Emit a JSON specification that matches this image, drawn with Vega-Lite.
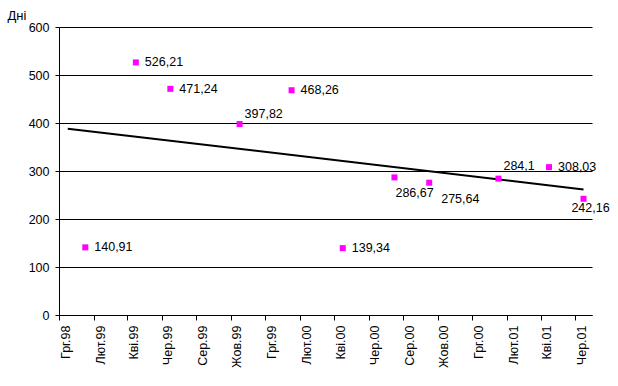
{
  "$schema": "https://vega.github.io/schema/vega-lite/v6.json",
  "width": 533,
  "height": 288,
  "autosize": {"type": "none"},
  "padding": {"left": 59, "top": 27, "right": 26, "bottom": 71},
  "background": "white",
  "config": {
    "view": {"stroke": null},
    "font": "Liberation Sans",
    "locale": {"number": {"decimal": ",", "thousands": " ", "grouping": [3], "currency": ["", ""]}},
    "axis": {"labelFont": "Liberation Sans", "titleFont": "Liberation Sans", "labelColor": "black", "titleColor": "black", "domainColor": "black", "tickColor": "black", "labelFontSize": 12.5}
  },
  "datasets": {
    "points": [
      {"month": "1999-01", "value": 140.91},
      {"month": "1999-04", "value": 526.21},
      {"month": "1999-06", "value": 471.24},
      {"month": "1999-10", "value": 397.82},
      {"month": "2000-01", "value": 468.26},
      {"month": "2000-04", "value": 139.34},
      {"month": "2000-07", "value": 286.67},
      {"month": "2000-09", "value": 275.64},
      {"month": "2001-01", "value": 284.1},
      {"month": "2001-04", "value": 308.03},
      {"month": "2001-06", "value": 242.16}
    ],
    "trend": [
      {"month": "1998-12", "value": 388.2},
      {"month": "2001-06", "value": 261.6}
    ]
  },
  "encoding": {
    "x": {
      "field": "month", "timeUnit": "utcyearmonth", "type": "temporal", "bandPosition": 0.5,
      "scale": {"type": "utc", "domain": [{"year": 1998, "month": 12, "date": 1, "utc": true}, {"year": 2001, "month": 7, "date": 1, "utc": true}]},
      "axis": {
        "title": null, "grid": false,
        "values": [
          {"year": 1998, "month": 12, "date": 1, "utc": true},
          {"year": 1999, "month": 2, "date": 1, "utc": true},
          {"year": 1999, "month": 4, "date": 1, "utc": true},
          {"year": 1999, "month": 6, "date": 1, "utc": true},
          {"year": 1999, "month": 8, "date": 1, "utc": true},
          {"year": 1999, "month": 10, "date": 1, "utc": true},
          {"year": 1999, "month": 12, "date": 1, "utc": true},
          {"year": 2000, "month": 2, "date": 1, "utc": true},
          {"year": 2000, "month": 4, "date": 1, "utc": true},
          {"year": 2000, "month": 6, "date": 1, "utc": true},
          {"year": 2000, "month": 8, "date": 1, "utc": true},
          {"year": 2000, "month": 10, "date": 1, "utc": true},
          {"year": 2000, "month": 12, "date": 1, "utc": true},
          {"year": 2001, "month": 2, "date": 1, "utc": true},
          {"year": 2001, "month": 4, "date": 1, "utc": true},
          {"year": 2001, "month": 6, "date": 1, "utc": true}
        ],
        "labelExpr": "['Січ','Лют','Бер','Кві','Тра','Чер','Лип','Сер','Вер','Жов','Лис','Грг'][utcmonth(datum.value)] + '.' + utcFormat(datum.value, '%y')",
        "labelAngle": -90, "labelAlign": "right", "labelBaseline": "middle", "labelOffset": 6,
        "labelPadding": 5, "tickSize": 5, "labelOverlap": false, "labelFlush": false, "labelBound": false
      }
    },
    "y": {
      "field": "value", "type": "quantitative",
      "scale": {"domain": [0, 600], "nice": false, "zero": true},
      "axis": {
        "values": [0, 100, 200, 300, 400, 500, 600], "grid": true, "gridColor": "black", "gridOpacity": 1, "gridWidth": 1,
        "tickSize": 4, "labelPadding": 6,
        "title": "Дні", "titleAngle": 0, "titleAlign": "left", "titleBaseline": "alphabetic", "titleX": -52, "titleY": -8,
        "titleFontWeight": "normal", "titleFontSize": 13
      }
    }
  },
  "layer": [
    {"data": {"name": "trend"}, "mark": {"type": "line", "color": "black", "strokeWidth": 2}},
    {"data": {"name": "points"}, "mark": {"type": "point", "shape": "square", "filled": true, "color": "#FF00FF", "opacity": 1, "size": 36}},
    {"data": {"name": "points"}, "transform": [{"filter": "datum.value == 140.91 || datum.value == 526.21 || datum.value == 471.24 || datum.value == 468.26 || datum.value == 139.34 || datum.value == 308.03"}],
     "mark": {"type": "text", "align": "left", "baseline": "middle", "dx": 9, "dy": 0, "fontSize": 12.5, "color": "black"},
     "encoding": {"text": {"field": "value", "type": "quantitative", "format": "~f"}}},
    {"data": {"name": "points"}, "transform": [{"filter": "datum.value == 397.82"}],
     "mark": {"type": "text", "align": "left", "baseline": "middle", "dx": 5, "dy": -10, "fontSize": 12.5, "color": "black"},
     "encoding": {"text": {"field": "value", "type": "quantitative", "format": "~f"}}},
    {"data": {"name": "points"}, "transform": [{"filter": "datum.value == 284.1"}],
     "mark": {"type": "text", "align": "left", "baseline": "middle", "dx": 5, "dy": -13, "fontSize": 12.5, "color": "black"},
     "encoding": {"text": {"field": "value", "type": "quantitative", "format": "~f"}}},
    {"data": {"name": "points"}, "transform": [{"filter": "datum.value == 286.67"}],
     "mark": {"type": "text", "align": "left", "baseline": "middle", "dx": 1, "dy": 16, "fontSize": 12.5, "color": "black"},
     "encoding": {"text": {"field": "value", "type": "quantitative", "format": "~f"}}},
    {"data": {"name": "points"}, "transform": [{"filter": "datum.value == 275.64"}],
     "mark": {"type": "text", "align": "left", "baseline": "middle", "dx": 12, "dy": 16, "fontSize": 12.5, "color": "black"},
     "encoding": {"text": {"field": "value", "type": "quantitative", "format": "~f"}}},
    {"data": {"name": "points"}, "transform": [{"filter": "datum.value == 242.16"}],
     "mark": {"type": "text", "align": "center", "baseline": "middle", "dx": 7, "dy": 9, "fontSize": 12.5, "color": "black"},
     "encoding": {"text": {"field": "value", "type": "quantitative", "format": "~f"}}}
  ]
}
